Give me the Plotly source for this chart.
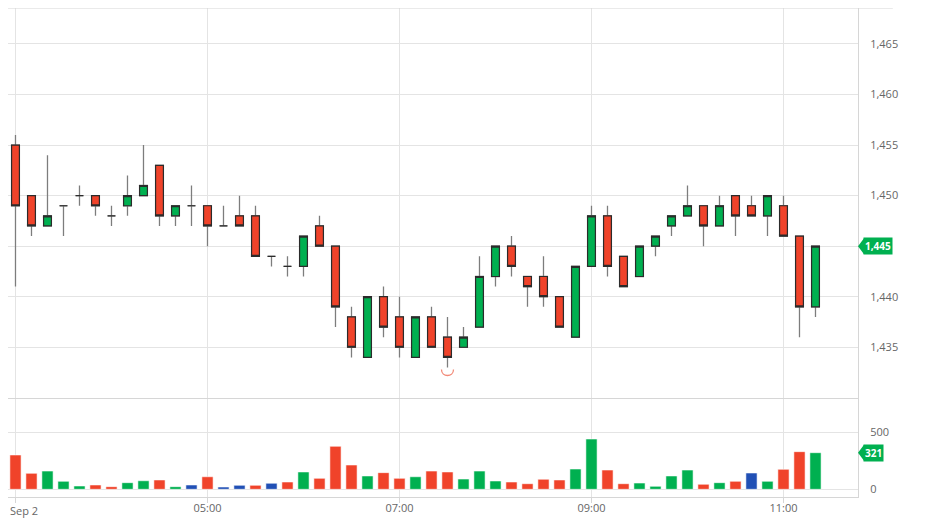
import pandas as pd
import plotly.graph_objects as go

# 10-minute candles, Sep 2 (first one sits half off the left edge)
times = pd.date_range("2023-09-02 02:50", periods=52, freq="10min")

opens = [1460, 1455, 1450, 1447, 1449, 1450, 1450, 1448, 1449, 1450, 1453, 1448, 1449,
         1449, 1447, 1448, 1448, 1444, 1443, 1443, 1447, 1445, 1438, 1434, 1440, 1438,
         1434, 1438, 1436, 1435, 1437, 1442, 1445, 1442, 1442, 1440, 1436, 1443, 1448,
         1444, 1442, 1445, 1447, 1448, 1449, 1447, 1450, 1449, 1448, 1449, 1446, 1439]
highs = [1464, 1456, 1450, 1454, 1449, 1451, 1450, 1449, 1452, 1455, 1453, 1449, 1451,
         1449, 1449, 1450, 1449, 1444, 1444, 1446, 1448, 1445, 1439, 1440, 1441, 1440,
         1438, 1439, 1438, 1437, 1444, 1445, 1446, 1442, 1444, 1440, 1443, 1449, 1449,
         1444, 1445, 1446, 1448, 1451, 1449, 1450, 1450, 1450, 1450, 1450, 1446, 1445]
lows = [1455, 1441, 1446, 1447, 1446, 1449, 1448, 1447, 1448, 1450, 1447, 1447, 1447,
        1445, 1447, 1447, 1444, 1443, 1442, 1442, 1445, 1437, 1434, 1434, 1436, 1434,
        1434, 1435, 1433, 1435, 1437, 1441, 1442, 1439, 1439, 1437, 1436, 1443, 1442,
        1441, 1442, 1444, 1446, 1448, 1445, 1447, 1446, 1448, 1446, 1446, 1436, 1438]
closes = [1455, 1449, 1447, 1448, 1449, 1450, 1449, 1448, 1450, 1451, 1448, 1449, 1449,
          1447, 1447, 1447, 1444, 1444, 1443, 1446, 1445, 1439, 1435, 1440, 1437, 1435,
          1438, 1435, 1434, 1436, 1442, 1445, 1443, 1441, 1440, 1437, 1443, 1448, 1443,
          1441, 1445, 1446, 1448, 1449, 1447, 1449, 1448, 1448, 1450, 1446, 1439, 1445]
volumes = [658, 301, 140, 160, 70, 29, 38, 23, 58, 75, 82, 23, 38,
           110, 20, 35, 35, 53, 64, 152, 96, 377, 213, 117, 146, 96,
           110, 160, 152, 90, 160, 73, 64, 49, 88, 82, 178, 441, 169,
           49, 55, 26, 117, 169, 44, 58, 70, 143, 70, 175, 330, 321]

tick_times = ["2023-09-02 03:00", "2023-09-02 05:00", "2023-09-02 07:00",
              "2023-09-02 09:00", "2023-09-02 11:00"]
tick_text = ["Sep 2", "05:00", "07:00", "09:00", "11:00"]
price_ticks = [1435, 1440, 1445, 1450, 1455, 1460, 1465]
volume_ticks = [0, 500]

GREEN = "#00b050"
RED = "#f0432a"
BLUE = "#2150b5"
GRID = "#e4e4e4"
AXIS = "#d6d6d6"
TEXT = "#666666"
FONT = "Open Sans"

# volume colour: up / down / unchanged versus previous close
vol_colors = [RED if closes[0] < opens[0] else GREEN]
for prev, cur in zip(closes[:-1], closes[1:]):
    vol_colors.append(GREEN if cur > prev else RED if cur < prev else BLUE)

body_hi = [max(o, c) for o, c in zip(opens, closes)]
body_lo = [min(o, c) for o, c in zip(opens, closes)]

# the last close gets a tag, so its own scale label is left blank
price_text = ["" if v == closes[-1] else f"{v:,}" for v in price_ticks]
# first time label would be cut by the left edge; it is drawn as an annotation instead
x_text = [""] + tick_text[1:]

fig = go.Figure()

# wicks (grey)
fig.add_trace(go.Candlestick(
    x=times, open=opens, high=highs, low=lows, close=closes,
    increasing=dict(line=dict(color="#7d7d7d", width=1.3), fillcolor="#7d7d7d"),
    decreasing=dict(line=dict(color="#7d7d7d", width=1.3), fillcolor="#7d7d7d"),
    whiskerwidth=0, hoverinfo="skip", showlegend=False, xaxis="x", yaxis="y",
))
# bodies with dark outline
fig.add_trace(go.Candlestick(
    x=times, open=opens, high=body_hi, low=body_lo, close=closes,
    increasing=dict(line=dict(color="#2b2b2b", width=1.2), fillcolor=GREEN),
    decreasing=dict(line=dict(color="#2b2b2b", width=1.2), fillcolor=RED),
    whiskerwidth=0, showlegend=False, xaxis="x", yaxis="y",
))

fig.add_trace(go.Bar(
    x=times, y=volumes,
    marker=dict(color=vol_colors, line=dict(color="rgba(255,255,255,0.55)", width=1)),
    showlegend=False, xaxis="x2", yaxis="y2",
))

# the page body adds an 8px margin, so the figure is trimmed to fit the window
x_range = ["2023-09-02 02:55:19", "2023-09-02 11:46:34"]

common_x = dict(
    type="date", range=x_range, tickvals=tick_times, ticktext=x_text,
    showgrid=True, gridcolor=GRID, gridwidth=1, rangeslider=dict(visible=False),
    showline=True, linecolor=AXIS, linewidth=1, zeroline=False,
)

fig.update_layout(
    width=927, height=521,
    margin=dict(l=0, r=77, t=0, b=32),
    paper_bgcolor="white", plot_bgcolor="white",
    bargap=0.3,
    font=dict(family=FONT, size=11, color=TEXT),
    xaxis=dict(common_x, anchor="y", showticklabels=False, ticks=""),
    xaxis2=dict(common_x, anchor="y2", matches="x", ticks="outside", ticklen=5,
                ticklabelstandoff=-4,
                tickcolor=AXIS, tickfont=dict(family=FONT, size=11, color=TEXT)),
    yaxis=dict(domain=[0.2018, 1], range=[1429.95, 1468.56], side="right",
               tickvals=price_ticks, ticktext=price_text,
               showgrid=True, gridcolor=GRID, zeroline=False,
               showline=True, linecolor=AXIS, ticks="outside", ticklen=9,
               tickcolor="rgba(0,0,0,0)", tickfont=dict(family=FONT, size=11, color=TEXT)),
    yaxis2=dict(domain=[0, 0.1994], range=[-67.5, 787.5], side="right", tickvals=volume_ticks,
                showgrid=True, gridcolor=GRID, zeroline=False,
                showline=True, linecolor=AXIS, ticks="outside", ticklen=9,
                tickcolor="rgba(0,0,0,0)", tickfont=dict(family=FONT, size=11, color=TEXT)),
)

fig.add_annotation(xref="paper", yref="paper", x=0, y=0, xanchor="left", yanchor="top",
                   yshift=-4, text=tick_text[0], showarrow=False,
                   font=dict(family=FONT, size=11, color=TEXT))

# top border running past the price scale
fig.add_shape(type="line", xref="paper", yref="paper", x0=0, x1=1.041, y0=1, y1=1,
              line=dict(color=AXIS, width=1))

# high / low markers (half circles)
i_hi = highs.index(max(highs))
i_lo = lows.index(min(lows))
arc = dict(color="#f28a78", width=1.3)
fig.add_shape(type="path", xref="x", yref="y", xsizemode="pixel", ysizemode="pixel",
              xanchor=times[i_hi], yanchor=highs[i_hi],
              path="M -6,2 C -6,10 6,10 6,2", line=arc)
fig.add_shape(type="path", xref="x", yref="y", xsizemode="pixel", ysizemode="pixel",
              xanchor=times[i_lo], yanchor=lows[i_lo],
              path="M -6,-2 C -6,-10 6,-10 6,-2", line=arc)

# last value tags
for yref, val in [("y", closes[-1]), ("y2", volumes[-1])]:
    fig.add_shape(type="path", xref="paper", yref=yref, xsizemode="pixel", ysizemode="pixel",
                  xanchor=1, yanchor=val, path="M 0,0 L 6,8 L 6,-8 Z",
                  fillcolor=GREEN, line=dict(width=0))
    fig.add_annotation(xref="paper", yref=yref, x=1, y=val, xanchor="left", yanchor="middle",
                       xshift=5, text=f"<b>{val:,}</b>", showarrow=False, bgcolor=GREEN,
                       borderpad=1, font=dict(family=FONT, size=10, color="white"))

fig.write_html("out.html")
